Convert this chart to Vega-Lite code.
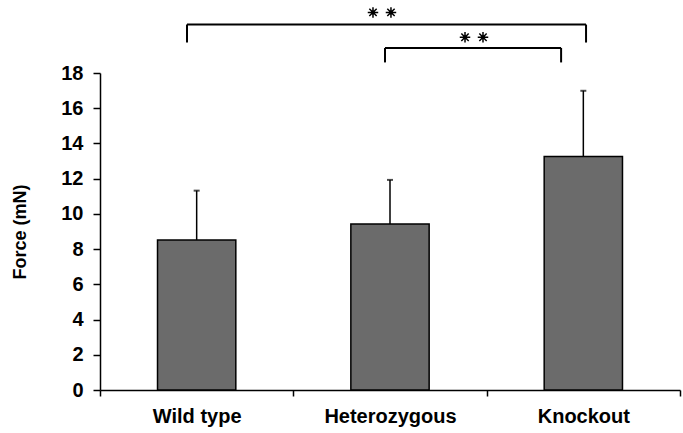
{
  "$schema": "https://vega.github.io/schema/vega-lite/v6.json",
  "width": 580,
  "height": 317,
  "autosize": "none",
  "padding": {"left": 100, "top": 73, "right": 3, "bottom": 43},
  "background": "white",
  "config": {"view": {"stroke": null}, "font": "Liberation Sans", "axisY": {"tickCount": 20, "labelOverlap": false}},
  "datasets": {
    "bars": [
      {"group": "Wild type", "force": 8.52, "upper": 11.32},
      {"group": "Heterozygous", "force": 9.43, "upper": 11.93},
      {"group": "Knockout", "force": 13.26, "upper": 16.99}
    ],
    "brackets": [
      {"x1": 0.45, "x2": 2.514, "y": 20.75, "yb": 19.73},
      {"x1": 1.474, "x2": 2.385, "y": 19.42, "yb": 18.6}
    ],
    "stars": [
      {"sx": 1.412, "sy": 21.44},
      {"sx": 1.505, "sy": 21.44},
      {"sx": 1.888, "sy": 20.03},
      {"sx": 1.981, "sy": 20.03}
    ]
  },
  "layer": [
    {
      "data": {"name": "bars"},
      "encoding": {
        "x": {
          "field": "group", "type": "nominal", "sort": null,
          "scale": {"paddingInner": 0, "paddingOuter": 0},
          "axis": {
            "title": null, "labelAngle": 0, "tickBand": "extent",
            "domainColor": "black", "domainWidth": 1.5, "tickColor": "black", "tickWidth": 1.5, "tickSize": 6,
            "labelFont": "Liberation Sans", "labelFontSize": 20, "labelFontWeight": "bold", "labelColor": "black", "labelPadding": 10
          }
        }
      },
      "layer": [
        {
          "mark": {"type": "rule", "color": "black", "strokeWidth": 1.5},
          "encoding": {
            "y": {
              "field": "force", "type": "quantitative",
              "scale": {"domain": [0, 18], "nice": false},
              "axis": {
                "title": "Force (mN)", "titleFont": "Liberation Sans", "titleFontSize": 18, "titleFontWeight": "bold", "titleColor": "black", "titlePadding": 31,
                "values": [0, 2, 4, 6, 8, 10, 12, 14, 16, 18], "tickCount": 20, "grid": false, "labelOverlap": false,
                "domainColor": "black", "domainWidth": 1.5, "tickColor": "black", "tickWidth": 1.5, "tickSize": 7,
                "labelFont": "Liberation Sans", "labelFontSize": 20, "labelFontWeight": "bold", "labelColor": "black", "labelPadding": 10
              }
            },
            "y2": {"field": "upper"}
          }
        },
        {
          "mark": {"type": "tick", "color": "black", "size": 6, "thickness": 2},
          "encoding": {
            "y": {"field": "upper", "type": "quantitative"}
          }
        },
        {
          "mark": {"type": "bar", "color": "#6b6b6b", "stroke": "black", "strokeWidth": 1.5, "width": {"band": 0.405}},
          "encoding": {
            "y": {"field": "force", "type": "quantitative"}
          }
        }
      ]
    },
    {
      "data": {"name": "brackets"},
      "encoding": {},
      "layer": [
        {
          "mark": {"type": "rule", "color": "black", "strokeWidth": 2},
          "encoding": {
            "x": {"field": "x1", "type": "quantitative", "scale": {"domain": [0, 3], "nice": false}, "axis": null},
            "x2": {"field": "x2"},
            "y": {"field": "y", "type": "quantitative"}
          }
        },
        {
          "mark": {"type": "rule", "color": "black", "strokeWidth": 2},
          "encoding": {
            "x": {"field": "x1", "type": "quantitative", "scale": {"domain": [0, 3], "nice": false}, "axis": null},
            "y": {"field": "yb", "type": "quantitative"},
            "y2": {"field": "y"}
          }
        },
        {
          "mark": {"type": "rule", "color": "black", "strokeWidth": 2},
          "encoding": {
            "x": {"field": "x2", "type": "quantitative", "scale": {"domain": [0, 3], "nice": false}, "axis": null},
            "y": {"field": "yb", "type": "quantitative"},
            "y2": {"field": "y"}
          }
        }
      ]
    },
    {
      "data": {"name": "stars"},
      "encoding": {
        "x": {"field": "sx", "type": "quantitative", "scale": {"domain": [0, 3], "nice": false}, "axis": null},
        "y": {"field": "sy", "type": "quantitative"}
      },
      "layer": [
        {
          "mark": {"type": "point", "filled": false, "stroke": "black", "strokeWidth": 1.5, "opacity": 1, "size": 110,
            "shape": "M-1,0L1,0M0,-1L0,1M-0.7,-0.7L0.7,0.7M-0.7,0.7L0.7,-0.7"}
        },
        {
          "mark": {"type": "point", "filled": true, "color": "black", "opacity": 1, "size": 16, "shape": "circle"}
        }
      ]
    }
  ],
  "resolve": {"scale": {"x": "independent"}, "axis": {"x": "independent"}}
}
